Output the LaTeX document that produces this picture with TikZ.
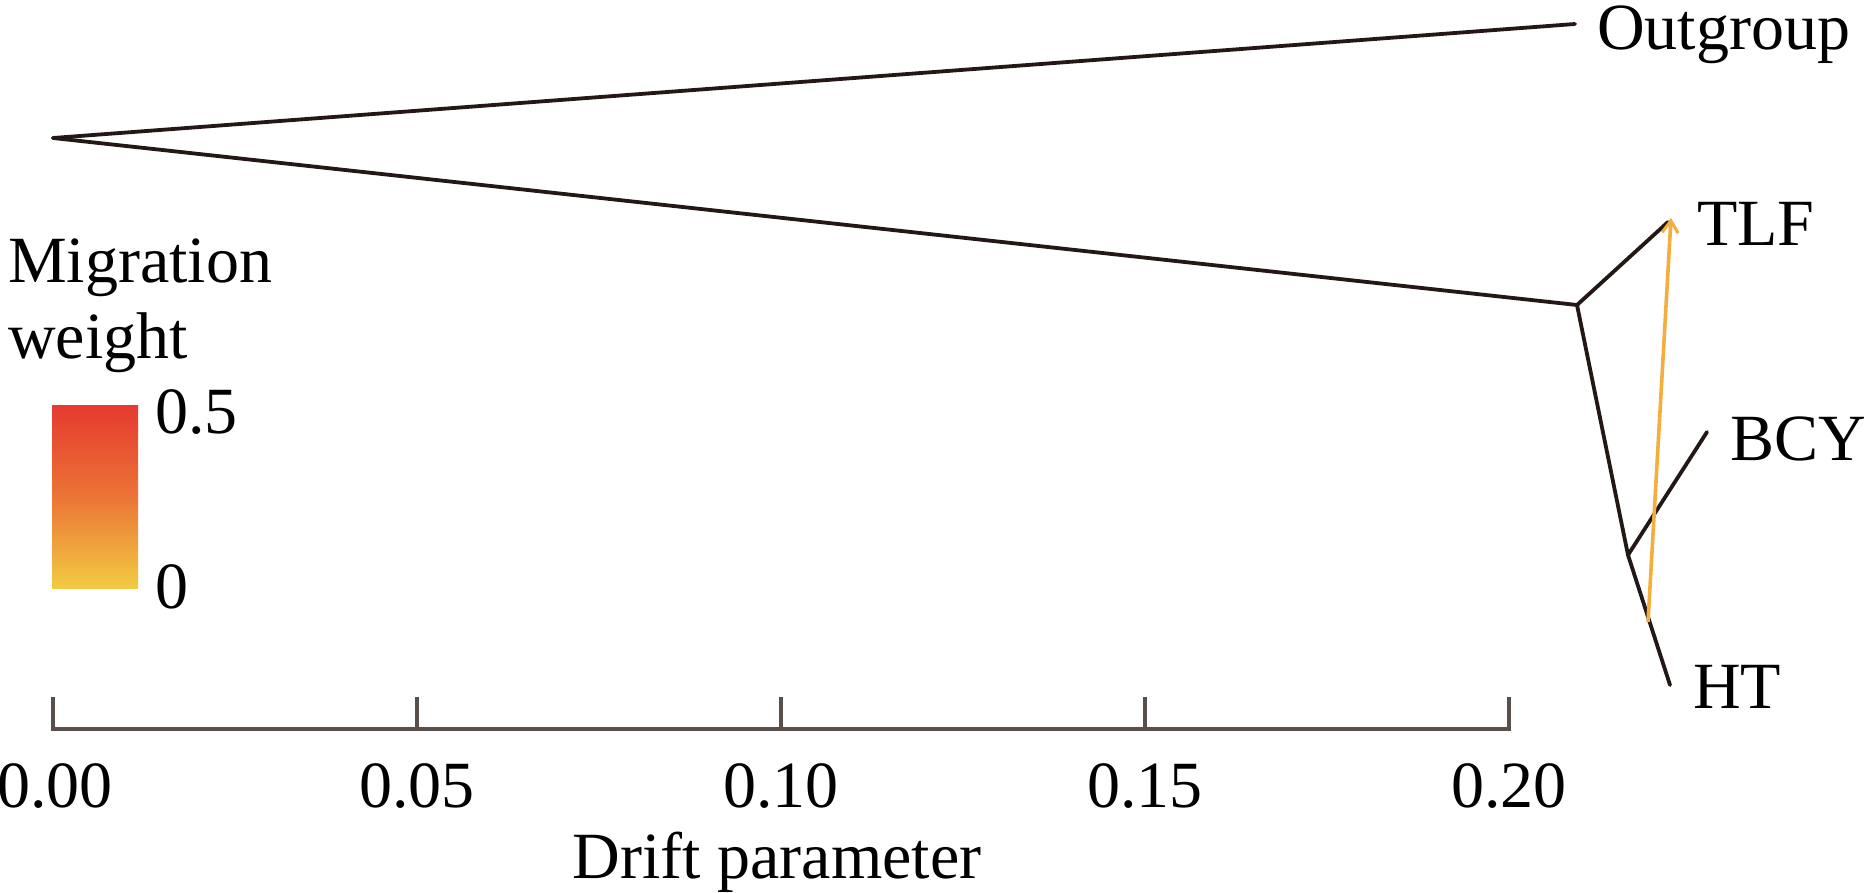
\documentclass[tikz,border=0pt]{standalone}
\usepackage{fontspec}
\setmainfont{Liberation Serif}
\usetikzlibrary{arrows.meta}
\definecolor{treecol}{HTML}{231815}
\definecolor{axiscol}{HTML}{5A504B}
\definecolor{migcol}{HTML}{F4AE3D}
\definecolor{cbtop}{HTML}{E53A2F}
\definecolor{cbmid}{HTML}{EC7436}
\definecolor{cbbot}{HTML}{F2CB42}
\tikzset{
  branch/.style={draw=treecol, line width=3.8pt, line cap=round, line join=round},
  axisline/.style={draw=axiscol, line width=4pt},
  migedge/.style={draw=migcol, line width=3.6pt, -{Straight Barb[length=12pt,width=16pt,line width=3pt]}},
  lab/.style={inner sep=0pt, anchor=base west, font=\fontsize{66}{70}\selectfont},
  ticklab/.style={inner sep=0pt, anchor=base, font=\fontsize{66}{70}\selectfont},
}
\begin{document}
\begin{tikzpicture}[x=1pt,y=-1pt]
\useasboundingbox (0,0) rectangle (1866,893);
% tree coordinates
\coordinate (root) at (53,138);
\coordinate (out) at (1575,24);
\coordinate (n1) at (1577,305);
\coordinate (tlf) at (1668,222);
\coordinate (n2) at (1628,555);
\coordinate (bcy) at (1707,432);
\coordinate (ht) at (1670,685);
\coordinate (migs) at (1648,622);
\coordinate (mige) at (1671,218);
% branches
\draw[branch] (root) -- (out);
\draw[branch] (root) -- (n1);
\draw[branch] (n1) -- (tlf);
\draw[branch] (n1) -- (n2);
\draw[branch] (n2) -- (bcy);
\draw[branch] (n2) -- (ht);
% migration edge
\draw[migedge] (migs) -- (mige);
% leaf labels
\node[lab] (lout) at (1597,50) {Outgroup};
\node[lab] (ltlf) at (1697,246) {TLF};
\node[lab] (lbcy) at (1730,460) {BCY};
\node[lab] (lht) at (1693,708) {HT};
% legend
\node[lab] (mig1) at (8,283) {Migration};
\node[lab] (mig2) at (8,358) {weight};
\shade[top color=cbtop, bottom color=cbbot, middle color=cbmid] (52,405) rectangle (138,588);
\node[lab] (cbhi) at (155,433) {0.5};
\node[lab] (cblo) at (155,608) {0};
% axis
\coordinate (a0) at (53,729);
\coordinate (a5) at (1509,729);
\draw[axisline] (53,697) -- (a0) -- (a5) -- (1509,697);
\foreach \x/\t in {417/0.05,781/0.10,1145/0.15}{
  \draw[axisline] (\x,697) -- (\x,729);
}
\foreach \x/\t in {55/0.00,417/0.05,781/0.10,1145/0.15,1509/0.20}{
  \node[ticklab] at (\x,807) {\t};
}
\node[ticklab] (xlab) at (777,878) {Drift parameter};
\end{tikzpicture}
\end{document}
